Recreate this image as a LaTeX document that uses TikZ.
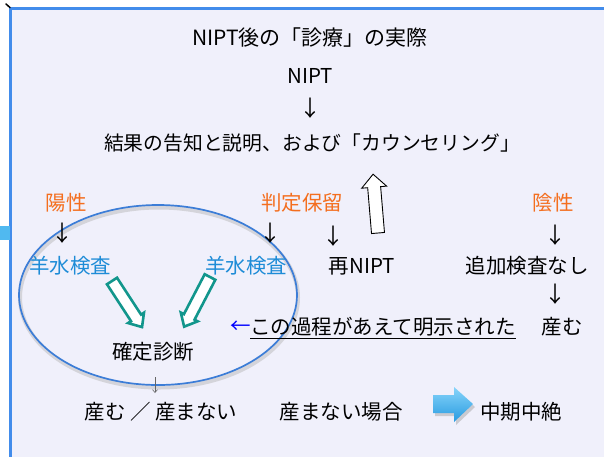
\documentclass[tikz,border=0pt]{standalone}
\usepackage{fontspec}
\setmainfont{Noto Sans CJK JP}
\usetikzlibrary{shapes.geometric,arrows.meta}
\definecolor{bgc}{RGB}{240,240,251}
\definecolor{framec}{RGB}{66,140,235}
\definecolor{orng}{RGB}{244,110,30}
\definecolor{bluetxt}{RGB}{30,140,215}
\definecolor{tealc}{RGB}{18,150,140}
\definecolor{ellc}{RGB}{60,125,215}
\definecolor{arrlight}{RGB}{135,212,250}
\definecolor{arrdark}{RGB}{40,155,225}
\definecolor{leftarr}{RGB}{80,185,240}
\newcommand{\myHollowArrow}[8]{%
  \begin{scope}[shift={(#1,#2)}, rotate=#3]
    \draw[#8] (0,-#5) -- ({#4-#7},-#5) -- ({#4-#7},-#6) -- (#4,0) -- ({#4-#7},#6) -- ({#4-#7},#5) -- (0,#5) -- cycle;
  \end{scope}}
\begin{document}
\begin{tikzpicture}[x=1pt,y=-1pt,
  txt/.style={inner sep=0pt, font=\fontsize{20.5}{24}\selectfont},
  hl/.style={txt, text=orng},
  bl/.style={txt, text=bluetxt},
  dn/.style={txt, font=\fontsize{22}{24}\selectfont}]
\useasboundingbox (0,0) rectangle (604,456);
\fill[white] (0,0) rectangle (604,456);
\fill[bgc] (10.7,8.7) rectangle (606,458);
\draw[framec, line width=2.5pt] (10.7,460) -- (10.7,8.7) -- (608,8.7);
\draw[black, line width=1.5pt, line cap=round] (6,4) -- (10,7.5);
\fill[leftarr] (0,226) rectangle (10,240);

% oval
\draw[black!30, line width=4pt, opacity=0.45] (159,297.5) ellipse [x radius=139pt, y radius=90pt];
\node[ellipse, draw=ellc, line width=1.7pt, minimum width=278pt, minimum height=180pt, inner sep=0pt] (oval) at (158,295) {};

% texts
\node[txt, font=\fontsize{21}{24}\selectfont] (title) at (310,38) {NIPT後の「診療」の実際};
\node[txt] (nipt) at (310,76) {NIPT};
\node[dn] (a0) at (310,108) {↓};
\node[txt, font=\fontsize{19.8}{24}\selectfont] (result) at (312,143) {結果の告知と説明、および「カウンセリング」};

\node[hl] (pos) at (66,203) {陽性};
\node[dn] (a1) at (62,233) {↓};
\node[hl] (hold) at (302,203) {判定保留};
\node[dn] (a2) at (270,233) {↓};
\node[dn] (a3) at (333,236) {↓};
\node[txt] (renipt) at (362,266) {再NIPT};
\node[hl] (neg) at (553,203) {陰性};
\node[dn] (a4) at (555,235) {↓};
\node[txt] (noadd) at (527,266) {追加検査なし};
\node[dn] (a5) at (555,294) {↓};
\node[txt] (birth1) at (562,327) {産む};

\node[bl] (amnio1) at (70,266) {羊水検査};
\node[bl] (amnio2) at (246,266) {羊水検査};
\node[txt] (kakutei) at (153,352) {確定診断};
\node[txt, text=blue] (larrow) at (241,327) {←};
\node[txt] (note) at (383,327) {この過程があえて明示された};
\draw[line width=0.9pt] ([yshift=-2pt]note.south west) -- ([yshift=-2pt]note.south east);

\node[txt] (outc) at (161,412) {産む ／ 産まない};
\node[txt] (notbirth) at (341,412) {産まない場合};
\node[txt] (abort) at (521,412) {中期中絶};

% gray arrow
\coordinate (g1) at (155,377);
\coordinate (g2) at (155,393);
\draw[black!60, line width=0.6pt, -{Straight Barb[length=3pt,width=5pt]}] (g1) -- (g2);

% hollow arrows
\myHollowArrow{112}{281}{-56.9}{55}{6}{9.5}{11}{draw=tealc, fill=white, line width=2.6pt, line join=miter}
\myHollowArrow{210}{277}{-117.5}{56}{6}{9.5}{11}{draw=tealc, fill=white, line width=2.6pt, line join=miter}
\myHollowArrow{378}{233}{94.8}{59}{6.5}{12.5}{13}{draw=black, fill=white, line width=0.9pt}

% blue block arrow
\fill[black!35, opacity=0.5] (435,398) -- (456,398) -- (456,390) -- (475,407) -- (456,425) -- (456,416) -- (435,416) -- cycle;
\shade[top color=arrlight, bottom color=arrdark] (433,395) -- (454,395) -- (454,387) -- (473,404) -- (454,422) -- (454,413) -- (433,413) -- cycle;
\end{tikzpicture}
\end{document}
